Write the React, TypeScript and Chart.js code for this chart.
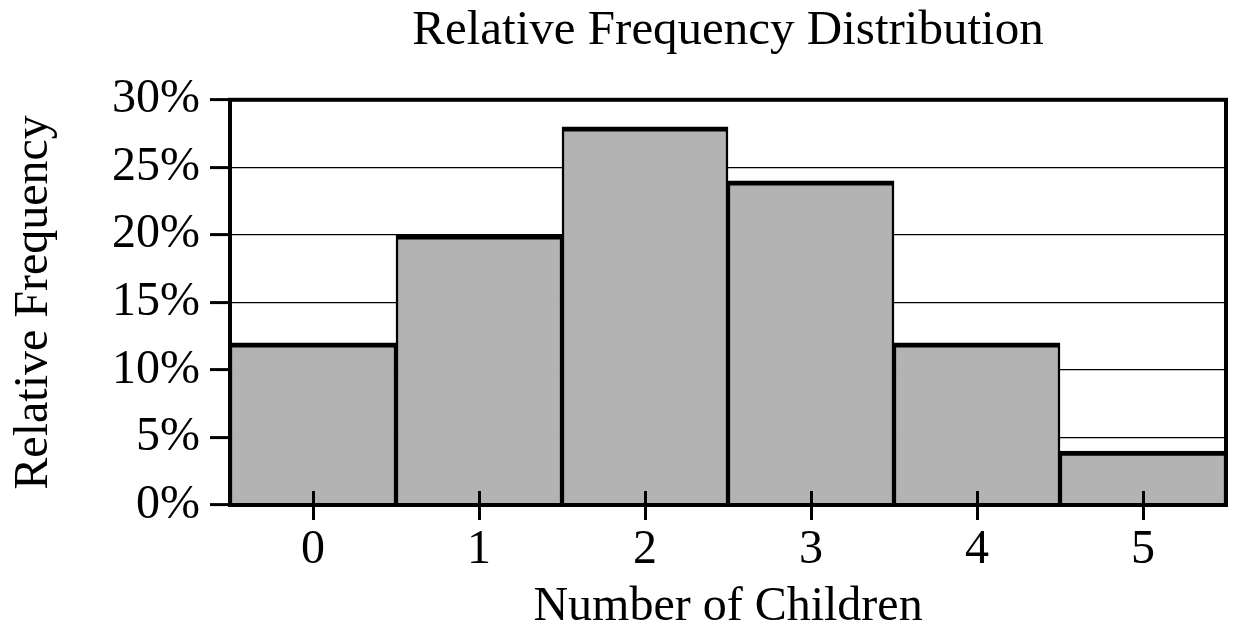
import React, { useEffect, useRef } from "react";
import { Chart, registerables } from "chart.js";

Chart.register(...registerables);

const categories = ["0", "1", "2", "3", "4", "5"];
const relFreq = [12, 20, 28, 24, 12, 4];
const yTicks = [0, 5, 10, 15, 20, 25, 30];

const FONT = "'Liberation Serif', 'Times New Roman', serif";

const framePlugin = {
  id: "frame",
  afterDatasetsDraw(chart: any) {
    const { ctx, chartArea, scales } = chart;
    const x = scales.x;
    ctx.save();
    ctx.strokeStyle = "#000";
    ctx.lineWidth = 3;
    for (let i = 0; i < categories.length; i++) {
      const px = Math.round(x.getPixelForValue(i)) + 0.5;
      ctx.beginPath();
      ctx.moveTo(px, chartArea.bottom - 14);
      ctx.lineTo(px, chartArea.bottom + 15);
      ctx.stroke();
    }
    ctx.lineWidth = 4;
    ctx.strokeRect(
      chartArea.left,
      chartArea.top,
      chartArea.right - chartArea.left,
      chartArea.bottom - chartArea.top
    );
    ctx.restore();
  },
};

export default function App() {
  const ref = useRef<HTMLCanvasElement>(null);
  useEffect(() => {
    if (!ref.current) return;
    Chart.defaults.color = "#000";
    const chart = new Chart(ref.current, {
      type: "bar",
      data: {
        labels: categories,
        datasets: [
          {
            data: relFreq,
            backgroundColor: "#b3b3b3",
            borderColor: "#000",
            borderWidth: { top: 5, left: 2.5, right: 2.5, bottom: 0 } as any,
            borderSkipped: false,
            categoryPercentage: 1,
            barPercentage: 1,
          },
        ],
      },
      options: {
        responsive: false,
        animation: false,
        layout: { padding: { left: 0, right: 7, top: 0, bottom: 0 } },
        plugins: {
          legend: { display: false },
          tooltip: { enabled: false },
          title: {
            display: true,
            fullSize: false,
            text: "Relative Frequency Distribution",
            color: "#000",
            font: { family: FONT, size: 49, weight: "normal" as any, lineHeight: 1.2 },
            padding: { top: 2, bottom: 39 },
          },
        },
        scales: {
          x: {
            grid: { display: false, drawTicks: true, tickLength: 15 },
            border: { display: false },
            ticks: {
              color: "#000",
              font: { family: FONT, size: 48 },
              padding: 2,
            },
            title: {
              display: true,
              text: "Number of Children",
              color: "#000",
              font: { family: FONT, size: 48, lineHeight: 1.2 },
              padding: { top: 0, bottom: 5 },
            },
            afterFit: (s: any) => {
              s.height = 136;
            },
          },
          y: {
            min: 0,
            max: 30,
            afterBuildTicks: (s: any) => {
              s.ticks = yTicks.map((v) => ({ value: v }));
            },
            grid: {
              color: "#000",
              lineWidth: 1.2,
              tickLength: 20,
              tickWidth: 3,
              tickColor: "#000",
            },
            border: { display: false },
            ticks: {
              color: "#000",
              font: { family: FONT, size: 48 },
              padding: 10,
              callback: (v: any) => v + "%",
            },
            title: {
              display: true,
              text: "Relative Frequency",
              color: "#000",
              font: { family: FONT, size: 48, lineHeight: 1.2 },
              padding: { top: 6, bottom: 0 },
            },
            afterFit: (s: any) => {
              s.width = 230;
            },
          },
        },
      },
      plugins: [framePlugin],
    });
    return () => chart.destroy();
  }, []);
  return (
    <div style={{ position: "fixed", left: 0, top: 0, width: 1233, height: 641, background: "#fff" }}>
      <canvas ref={ref} width={1233} height={641} />
    </div>
  );
}
